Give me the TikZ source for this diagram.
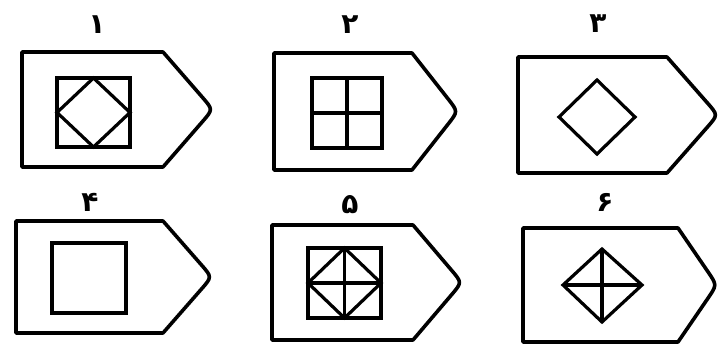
\documentclass[tikz,border=0pt]{standalone}
\usepackage{fontspec}
\newfontfamily\farsifont[Script=Arabic]{DejaVu Sans}
\usetikzlibrary{calc}

\begin{document}
\begin{tikzpicture}[
	x=1pt, y=-1pt,
	shekl/.style={line width=3.6pt, line join=round},
	dakheli/.style={line width=3.2pt, line join=miter},
	shomare/.style={font=\farsifont\bfseries\fontsize{28}{28}\selectfont, inner sep=0pt}
]
\useasboundingbox (0,0) rectangle (725,349);

% outlines of the six plates
\foreach \n/\l/\t/\r/\tx/\b in {1/22/52/163/213/167, 2/274/53/412/458/170, 3/518/57/667/718/173, 4/16/221/163/212/333, 5/272/225/413/462/340, 6/523/228/678/717/342}{
	\coordinate (tl\n) at (\l,\t);
	\coordinate (tr\n) at (\r,\t);
	\coordinate (tip\n) at (\tx,{(\t+\b)/2});
	\coordinate (br\n) at (\r,\b);
	\coordinate (bl\n) at (\l,\b);
	\draw[shekl] (tl\n) -- (tr\n) -- ($(tip\n)!16pt!(tr\n)$) .. controls (tip\n) .. ($(tip\n)!16pt!(br\n)$) -- (br\n) -- (bl\n) -- cycle;
}

% numbers
\node[shomare] (n1) at (97,25) {۱};
\node[shomare] (n2) at (350,25) {۲};
\node[shomare] (n3) at (598,24) {۳};
\node[shomare] (n4) at (90,202) {۴};
\node[shomare] (n5) at (350,205) {۵};
\node[shomare] (n6) at (605,202) {۶};

% 1
\draw[dakheli] (57,78) rectangle (130,147);
\draw[dakheli] (93.5,78) -- (130,112.5) -- (93.5,147) -- (57,112.5) -- cycle;
% 2
\draw[dakheli] (312,78) rectangle (382,148);
\draw[dakheli] (347,78) -- (347,148) (312,113) -- (382,113);
% 3
\draw[dakheli] (597,80) -- (635,117) -- (597,154) -- (559,117) -- cycle;
% 4
\draw[dakheli] (52,243) rectangle (126,313);
% 5
\draw[dakheli] (308,248) rectangle (381,318);
\draw[dakheli] (344.5,248) -- (344.5,318) (308,283) -- (381,283);
\draw[dakheli] (344.5,248) -- (381,283) -- (344.5,318) -- (308,283) -- cycle;
% 6
\draw[dakheli] (602,249) -- (642,285) -- (602,322) -- (563,285) -- cycle;
\draw[dakheli] (602,249) -- (602,322) (563,285) -- (642,285);
\end{tikzpicture}
\end{document}
